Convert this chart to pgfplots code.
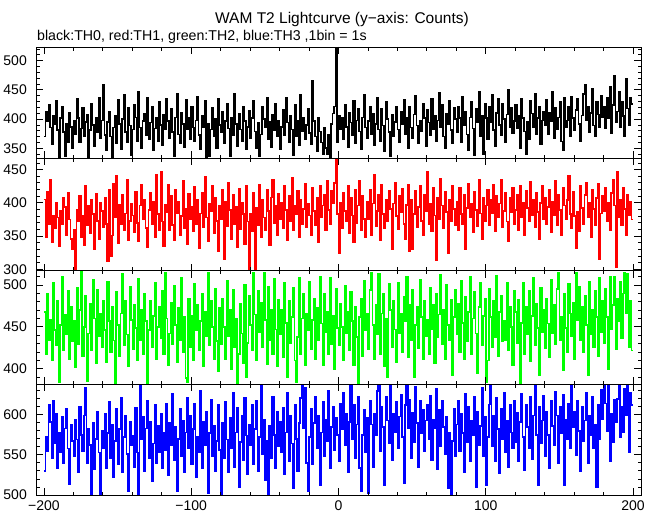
\documentclass[border=0pt]{standalone}
\usepackage{fontspec}
\setmainfont{Liberation Sans}
\usepackage{pgfplots}
\usepackage{pgfplotstable}
\pgfplotsset{compat=1.18}
\pgfplotstableread{
x a b c d
-200 370 405 468 530
-199 413 349 417 572
-198 397 416 489 554
-197 424 368 434 613
-196 386 435 458 591
-195 357 341 410 546
-194 406 381 503 618
-193 392 362 446 564
-192 432 400 428 601
-191 381 378 481 534
-190 334 335 384 577
-189 402 388 452 553
-188 421 368 510 598
-187 378 407 422 540
-186 336 394 465 583
-185 392 352 441 607
-184 360 415 493 558
-183 411 375 412 513
-182 387 346 474 588
-181 351 330 433 567
-180 397 359 457 548
-179 374 301 402 594
-178 435 389 497 569
-177 402 372 430 528
-176 360 410 470 610
-175 384 349 516 575
-174 419 380 415 554
-173 370 337 450 599
-172 395 425 487 634
-171 408 367 385 540
-170 335 396 442 582
-169 381 354 478 562
-168 426 405 422 498
-167 390 383 506 590
-166 354 331 460 532
-165 403 413 407 570
-164 378 373 494 604
-163 436 346 439 553
-162 368 400 466 500
-161 398 388 426 580
-160 458 364 481 558
-159 373 407 446 601
-158 347 368 408 534
-157 395 312 504 577
-156 413 420 457 616
-155 370 320 420 546
-154 335 351 474 588
-153 386 429 434 522
-152 406 378 383 567
-151 358 440 492 607
-150 433 340 452 538
-149 392 397 415 582
-148 349 368 466 621
-147 400 412 513 528
-146 441 359 428 572
-145 378 384 481 599
-144 360 435 441 551
-143 419 344 403 505
-142 389 373 498 591
-141 338 399 458 562
-140 382 381 423 574
-139 424 356 476 535
-138 403 416 449 609
-137 363 370 410 553
-136 446 343 507 498
-135 386 396 434 638
-134 351 427 470 570
-133 397 376 417 598
-132 410 405 490 530
-131 373 362 457 583
-130 436 333 383 618
-129 366 389 446 546
-128 394 415 481 591
-127 421 368 426 517
-126 347 402 463 564
-125 384 348 503 612
-124 403 442 412 540
-123 363 383 450 586
-122 429 359 474 553
-121 390 446 436 601
-120 355 372 493 534
-119 408 335 418 577
-118 382 397 514 556
-117 435 386 460 614
-116 397 427 405 525
-115 368 359 442 590
-114 418 410 479 562
-113 378 367 430 626
-112 337 344 499 543
-111 403 420 452 585
-110 443 384 408 505
-109 374 402 473 570
-108 358 352 434 607
-107 411 380 509 548
-106 392 433 420 593
-105 352 362 462 528
-104 433 391 389 578
-103 382 338 384 621
-102 402 413 484 558
-101 365 376 426 599
-100 421 394 463 538
-99 386 357 410 582
-98 362 424 501 614
-97 398 368 446 522
-96 438 405 476 572
-95 373 332 422 553
-94 349 384 457 630
-93 406 415 490 534
-92 387 364 403 591
-91 432 439 468 562
-90 335 378 439 604
-89 392 343 514 502
-88 337 399 428 577
-87 382 388 481 619
-86 419 426 450 548
-85 370 354 411 586
-84 400 408 496 530
-83 351 373 433 567
-82 435 327 397 612
-81 390 396 473 556
-80 378 375 430 498
-79 413 419 484 590
-78 358 315 450 546
-77 397 402 412 616
-76 427 365 505 569
-75 384 430 439 529
-74 336 389 470 596
-73 402 346 400 558
-72 373 412 494 627
-71 444 368 426 535
-70 392 394 460 578
-69 354 334 383 609
-68 410 421 418 510
-67 382 360 478 566
-66 363 400 442 599
-65 422 383 407 543
-64 397 338 500 621
-63 348 425 390 574
-62 387 372 431 526
-61 414 300 487 588
-60 368 384 452 562
-59 402 357 422 612
-58 432 415 514 538
-57 379 298 465 582
-56 351 392 410 618
-55 394 367 493 530
-54 336 427 444 572
-53 374 348 479 638
-52 421 404 426 551
-51 400 378 515 594
-50 386 359 458 519
-49 437 420 406 567
-48 365 388 498 498
-47 395 337 434 586
-46 352 408 471 546
-45 408 435 417 622
-44 381 370 507 575
-43 426 396 447 534
-42 371 351 403 604
-41 398 413 482 561
-40 349 376 441 591
-39 387 400 470 553
-38 416 362 414 609
-37 373 426 502 526
-36 436 389 455 578
-35 394 344 390 627
-34 360 410 481 542
-33 406 372 431 599
-32 382 437 462 564
-31 338 359 497 508
-30 424 396 410 613
-29 370 383 384 570
-28 398 418 438 530
-27 355 348 508 590
-26 442 405 418 621
-25 379 368 460 638
-24 403 391 489 583
-23 365 429 404 634
-22 390 364 466 540
-21 418 399 446 505
-20 376 381 504 572
-19 357 352 423 607
-18 466 422 458 538
-17 397 388 484 590
-16 370 367 412 623
-15 346 407 473 558
-14 402 341 434 599
-13 379 425 510 512
-12 360 378 454 578
-11 340 396 404 616
-10 386 412 490 548
-9 351 359 444 594
-8 340 433 468 567
-7 373 389 417 630
-6 335 368 509 534
-5 392 418 430 585
-4 410 400 463 610
-3 422 430 400 556
-2 520 465 496 596
-1 360 383 449 575
0 406 325 428 542
1 382 400 478 614
2 402 362 450 582
3 365 415 410 627
4 424 388 499 562
5 387 373 442 601
6 352 425 468 528
7 411 354 422 591
8 394 407 492 638
9 373 381 457 570
10 432 341 405 612
11 358 419 474 546
12 398 370 438 588
13 418 396 383 623
14 379 433 462 534
15 348 359 484 505
16 403 410 415 575
17 441 376 505 606
18 386 348 446 553
19 368 402 466 596
20 397 375 423 502
21 421 420 494 618
22 374 352 515 588
23 410 399 452 535
24 355 442 411 601
25 392 365 476 575
26 436 388 441 630
27 382 412 513 638
28 363 344 417 554
29 418 427 466 610
30 389 383 489 585
31 346 362 403 512
32 429 405 460 622
33 400 372 390 593
34 378 418 501 564
35 336 391 470 637
36 408 330 426 543
37 371 399 481 601
38 395 430 447 578
39 422 380 408 616
40 382 360 503 558
41 360 410 442 598
42 413 386 466 625
43 392 421 420 572
44 433 368 486 515
45 374 346 457 612
46 403 397 510 638
47 351 427 414 583
48 421 328 476 619
49 386 404 434 546
50 368 330 494 602
51 408 383 390 566
52 440 418 452 635
53 389 364 474 590
54 358 394 425 535
55 398 426 506 617
56 379 373 462 577
57 426 352 412 606
58 402 412 481 554
59 354 388 439 593
60 416 446 458 613
61 394 368 418 570
62 373 399 497 624
63 434 357 447 543
64 382 422 476 594
65 406 381 407 583
66 363 314 489 632
67 398 407 438 532
68 445 376 465 606
69 387 436 512 561
70 424 396 430 617
71 370 362 471 585
72 350 416 412 551
73 410 386 500 598
74 392 325 452 508
75 432 405 434 577
76 381 372 482 498
77 358 425 392 567
78 419 391 462 607
79 400 367 494 548
80 378 402 441 588
81 422 359 478 618
82 402 423 420 554
83 360 383 505 601
84 439 368 455 577
85 389 412 411 529
86 413 330 486 626
87 374 392 433 566
88 347 429 468 610
89 403 378 510 542
90 430 399 418 593
91 384 356 460 575
92 338 416 492 622
93 418 389 442 510
94 394 365 395 604
95 447 434 474 562
96 371 384 503 586
97 406 346 428 634
98 340 407 463 548
99 427 373 484 598
100 402 396 384 512
101 366 419 410 572
102 421 367 496 613
103 394 405 462 638
104 442 384 426 561
105 381 427 481 599
106 354 357 438 542
107 411 410 511 621
108 434 378 415 582
109 390 399 468 527
110 373 435 487 607
111 426 364 433 570
112 400 388 457 627
113 360 415 434 553
114 408 372 502 593
115 451 343 422 535
116 386 407 474 612
117 419 386 450 578
118 376 422 405 558
119 397 368 493 618
120 424 389 468 566
121 384 412 431 602
122 406 359 482 542
123 351 425 383 591
124 435 378 455 626
125 402 400 502 572
126 379 351 417 531
127 340 418 474 613
128 395 392 441 585
129 365 372 493 558
130 432 431 409 622
131 410 381 463 545
132 387 405 508 599
133 443 364 428 636
134 374 415 478 575
135 402 386 449 512
136 422 346 392 610
137 357 400 497 564
138 398 426 444 593
139 413 376 470 624
140 389 408 425 548
141 433 368 484 604
142 374 394 454 575
143 411 420 414 534
144 397 356 506 618
145 446 402 442 586
146 368 381 476 562
147 419 433 430 629
148 382 367 495 599
149 403 412 514 540
150 429 389 434 610
151 362 352 462 577
152 347 422 398 625
153 436 396 489 512
154 386 375 449 594
155 398 404 420 570
156 421 440 501 614
157 371 383 466 558
158 439 362 439 638
159 402 416 479 585
160 381 380 412 604
161 416 332 515 550
162 434 386 458 618
163 392 357 498 580
164 363 425 434 530
165 406 392 474 610
166 443 368 420 567
167 458 412 487 593
168 398 430 452 628
169 422 378 392 540
170 378 400 504 599
171 411 349 441 575
172 452 419 470 622
173 389 391 426 558
174 370 367 493 588
175 430 407 462 510
176 408 428 415 613
177 387 315 509 570
178 440 384 444 631
179 403 410 481 594
180 421 388 431 638
181 384 422 496 614
182 436 372 462 580
183 402 400 400 637
184 455 359 510 542
185 376 415 447 601
186 424 435 476 566
187 475 396 510 619
188 395 303 423 591
189 413 447 484 620
190 447 378 457 638
191 386 405 504 572
192 430 367 436 610
193 405 423 490 578
194 371 391 514 633
195 469 352 466 599
196 418 412 513 638
197 390 381 426 553
198 437 402 481 627
199 426 375 422 612
200 426 375 422 612
}\lc

\begin{document}
\begin{tikzpicture}[font=\fontsize{14}{16}\selectfont]
\fill[white] (0pt,0pt) rectangle (660pt,515pt);
\path[use as bounding box] (0pt,0pt) rectangle (660pt,515pt);
\pgfplotsset{panel/.style={
  scale only axis, width=605pt, anchor=south west,
  xmin=-205.4, xmax=205.4,
  axis on top,
  axis line style={line width=0.9pt, black},
  tick style={line width=0.9pt, black},
  tick align=inside,
  major tick length=7pt, minor tick length=3.5pt,
  xtick={-200,-100,0,100,200},
  minor xtick={-200,-180,...,200},
  xticklabels={},
  xtick pos=both, ytick pos=both,
  yticklabel style={anchor=east, inner sep=0pt, xshift=-9pt},
  xticklabel style={anchor=north, inner sep=0pt, yshift=-5.5pt},
  every axis plot/.append style={line width=1.6pt, line join=miter, line cap=butt},
}}
% panel 4 (blue)
\begin{axis}[panel, at={(36pt,20pt)}, height=111pt,
  ymin=500, ymax=638.4,
  ytick={500,550,600}, yticklabels={500,550,600},
  minor ytick={500,510,...,630},
  xticklabels={−200,−100,0,100,200}]
\addplot[const plot, draw={rgb,1:red,0;green,0;blue,1}, line width=1.6pt] table[x=x, y=d] {\lc};
\end{axis}
% panel 3 (green)
\begin{axis}[panel, at={(36pt,131pt)}, height=113.3pt,
  ymin=382, ymax=517,
  ytick={400,450,500}, yticklabels={400,450,500},
  minor ytick={390,400,...,510}]
\addplot[const plot, draw={rgb,1:red,0;green,1;blue,0}, line width=1.6pt] table[x=x, y=c] {\lc};
\end{axis}
% panel 2 (red)
\begin{axis}[panel, at={(36pt,244.3pt)}, height=112.4pt,
  ymin=298, ymax=467,
  ytick={300,350,400,450}, yticklabels={300,350,400,450},
  minor ytick={300,310,...,460}]
\addplot[const plot, draw={rgb,1:red,1;green,0;blue,0}, line width=1.6pt] table[x=x, y=b] {\lc};
\end{axis}
% panel 1 (black)
\begin{axis}[panel, at={(36pt,356.7pt)}, height=111.3pt,
  ymin=333, ymax=523.5,
  ytick={350,400,450,500}, yticklabels={350,400,450,500},
  minor ytick={340,350,...,520}]
\addplot[const plot, draw=black, line width=1.6pt] table[x=x, y=a] {\lc};
\end{axis}
\node[anchor=base, inner sep=0pt, font=\fontsize{15.5}{18}\selectfont] at (342pt,491.5pt) {WAM T2 Lightcurve (y−axis: Counts)};
\node[anchor=base west, inner sep=0pt, font=\fontsize{14.2}{17}\selectfont] at (37pt,474pt) {black:TH0, red:TH1, green:TH2, blue:TH3 ,1bin = 1s};
\end{tikzpicture}
\end{document}
